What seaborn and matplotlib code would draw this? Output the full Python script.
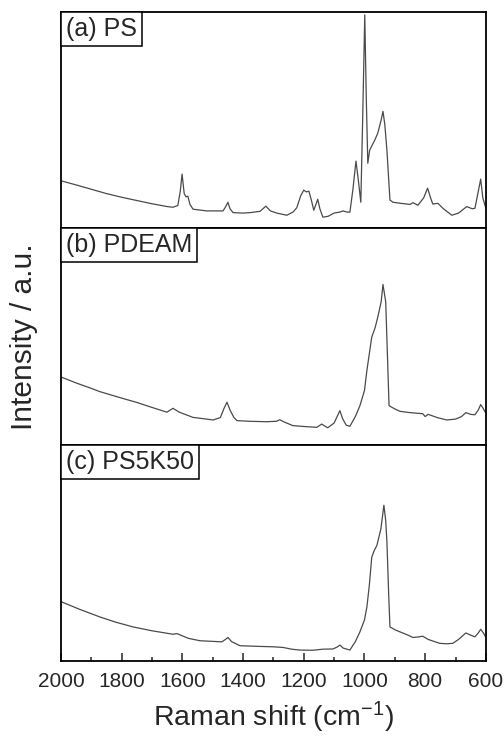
import numpy as np
import pandas as pd
import matplotlib
matplotlib.use("Agg")
import matplotlib.pyplot as plt
import seaborn as sns
from matplotlib.ticker import MultipleLocator

sns.set_style("ticks")
plt.rcParams['font.family'] = ['Liberation Sans', 'DejaVu Sans']
plt.rcParams['mathtext.default'] = 'regular'

# ---------------------------------------------------------------------------
# Spectra (wavenumber in cm-1, relative intensity)
# ---------------------------------------------------------------------------
ps_shift = [1997, 1950, 1900, 1850, 1800, 1750, 1700, 1650, 1631, 1615, 1607, 1601,
            1594, 1588, 1582, 1575, 1565, 1520, 1466, 1457, 1450, 1443, 1433, 1400,
            1377, 1344, 1325, 1310, 1289, 1256, 1235, 1223, 1210, 1200, 1192, 1183,
            1175, 1167, 1160, 1154, 1147, 1137, 1120, 1100, 1080, 1071, 1060, 1048,
            1038, 1028, 1020, 1012, 1006, 999, 994, 989, 983, 976, 965, 956, 945,
            939, 933, 926, 916, 906, 880, 850, 840, 824, 805, 792, 782, 775, 758,
            740, 712, 690, 663, 645, 636, 625, 617, 610, 601]
ps_int = [0.218, 0.200, 0.180, 0.160, 0.143, 0.128, 0.113, 0.100, 0.097, 0.105, 0.17, 0.25,
          0.16, 0.145, 0.148, 0.11, 0.088, 0.080, 0.080, 0.10, 0.12, 0.09, 0.072, 0.070,
          0.072, 0.078, 0.102, 0.08, 0.070, 0.060, 0.075, 0.095, 0.15, 0.176, 0.168, 0.171,
          0.13, 0.083, 0.11, 0.134, 0.09, 0.051, 0.055, 0.070, 0.075, 0.080, 0.075, 0.074,
          0.18, 0.31, 0.22, 0.12, 0.5, 0.986, 0.6, 0.30, 0.36, 0.38, 0.41, 0.44, 0.50,
          0.54, 0.48, 0.36, 0.13, 0.12, 0.115, 0.11, 0.118, 0.106, 0.14, 0.185, 0.14, 0.112, 0.115,
          0.09, 0.060, 0.07, 0.10, 0.09, 0.092, 0.17, 0.227, 0.14, 0.097]

pdeam_shift = [1997, 1950, 1900, 1872, 1800, 1750, 1700, 1651, 1631, 1610, 1565, 1520,
               1499, 1475, 1462, 1453, 1443, 1430, 1420, 1380, 1322, 1290, 1279, 1265,
               1236, 1200, 1157, 1141, 1121, 1100, 1090, 1081, 1072, 1060, 1048, 1030,
               1015, 1000, 992, 976, 965, 956, 945, 939, 930, 924, 919, 900, 883, 850,
               808, 800, 790, 760, 729, 700, 680, 666, 650, 636, 625, 617, 610, 601]
pdeam_int = [0.311, 0.285, 0.260, 0.245, 0.215, 0.195, 0.172, 0.150, 0.168, 0.150, 0.126, 0.118,
             0.114, 0.125, 0.17, 0.196, 0.16, 0.125, 0.111, 0.108, 0.106, 0.108, 0.115, 0.105,
             0.088, 0.084, 0.080, 0.095, 0.078, 0.10, 0.13, 0.157, 0.12, 0.09, 0.085, 0.13,
             0.18, 0.25, 0.343, 0.497, 0.54, 0.59, 0.66, 0.74, 0.66, 0.40, 0.18, 0.165, 0.154, 0.148,
             0.143, 0.13, 0.14, 0.125, 0.114, 0.118, 0.13, 0.148, 0.140, 0.138, 0.16, 0.185, 0.17, 0.148]

blend_shift = [1997, 1940, 1872, 1820, 1763, 1700, 1631, 1618, 1580, 1542, 1470, 1458,
               1450, 1438, 1410, 1350, 1300, 1268, 1240, 1213, 1170, 1137, 1104, 1090,
               1081, 1070, 1048, 1030, 1015, 1000, 992, 984, 976, 968, 959, 946, 936,
               930, 926, 920, 916, 900, 883, 860, 840, 820, 808, 790, 752, 730, 709,
               690, 666, 650, 636, 625, 617, 608, 601]
blend_int = [0.273, 0.240, 0.204, 0.180, 0.158, 0.140, 0.124, 0.127, 0.105, 0.094, 0.089, 0.10,
             0.109, 0.09, 0.071, 0.068, 0.066, 0.063, 0.055, 0.051, 0.050, 0.055, 0.056, 0.065,
             0.074, 0.060, 0.051, 0.09, 0.135, 0.19, 0.25, 0.35, 0.48, 0.51, 0.535, 0.61, 0.72,
             0.65, 0.55, 0.30, 0.158, 0.145, 0.135, 0.122, 0.109, 0.112, 0.115, 0.10, 0.082, 0.080, 0.082,
             0.10, 0.13, 0.12, 0.112, 0.13, 0.147, 0.13, 0.112]

labels = ['(a) PS', '(b) PDEAM', '(c) PS5K50']
spectra = [(ps_shift, ps_int), (pdeam_shift, pdeam_int), (blend_shift, blend_int)]

# ---------------------------------------------------------------------------
# Figure
# ---------------------------------------------------------------------------
fig, axes = plt.subplots(3, 1, figsize=(5.04, 7.37), dpi=100, sharex=True)
fig.subplots_adjust(left=0.121, right=0.964, top=0.984, bottom=0.103, hspace=0)

LABEL_FS = 18
PAD = 0.2  # box padding, fraction of font size

for ax, label, (x, y) in zip(axes, labels, spectra):
    df = pd.DataFrame({'shift': x, 'intensity': y})
    sns.lineplot(data=df, x='shift', y='intensity', ax=ax, sort=False,
                 estimator=None, color='#4a4a4a', lw=0.9)
    ax.set_xlim(2000, 600)
    ax.set_ylim(0, 1)
    ax.set_yticks([])
    ax.set_xlabel('')
    ax.set_ylabel('')
    for s in ax.spines.values():
        s.set_linewidth(1.3)
        s.set_color('black')
        s.set_visible(True)
    off = PAD * LABEL_FS
    ax.annotate(label, xy=(0, 1), xycoords='axes fraction',
                xytext=(off, -off), textcoords='offset points',
                ha='left', va='top', fontsize=LABEL_FS,
                bbox=dict(boxstyle=f'square,pad={PAD}', fc='white', ec='black', lw=1.1))

for ax in axes[:2]:
    ax.tick_params(axis='x', which='both', bottom=False, labelbottom=False)

ax = axes[2]
ax.xaxis.set_major_locator(MultipleLocator(200))
ax.xaxis.set_minor_locator(MultipleLocator(100))
ax.tick_params(axis='x', which='major', direction='in', length=5.5, width=1.1,
               labelsize=15, pad=8)
ax.tick_params(axis='x', which='minor', direction='in', length=3, width=1.1)
ax.set_xlabel('Raman shift (cm$^{-1}$)', fontsize=20.5, labelpad=6)

fig.text(0.048, 0.543, 'Intensity / a.u.', rotation=90, ha='center', va='center',
         fontsize=21.5)

plt.savefig('out.png', dpi=100)
